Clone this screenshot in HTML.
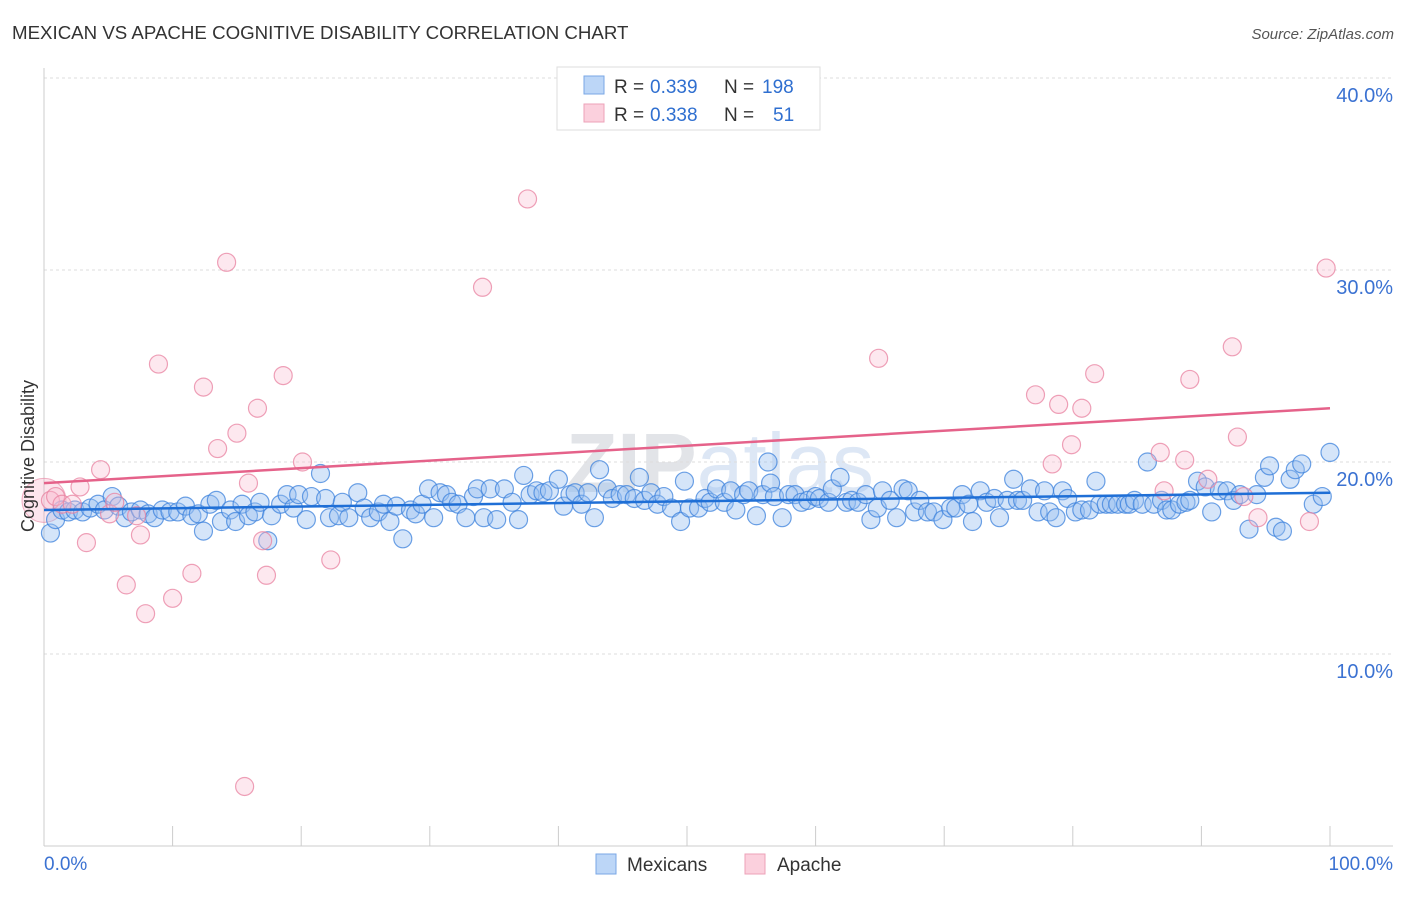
<!DOCTYPE html>
<html><head><meta charset="utf-8"><style>
body{margin:0;background:#fff;font-family:"Liberation Sans",sans-serif}
svg text{font-family:"Liberation Sans",sans-serif}
</style></head><body>
<svg id="chart" width="1406" height="892" viewBox="0 0 1406 892" xmlns="http://www.w3.org/2000/svg">
<text x="12" y="39" font-size="18.7" fill="#333">MEXICAN VS APACHE COGNITIVE DISABILITY CORRELATION CHART</text>
<text x="1394" y="39" font-size="15" font-style="italic" fill="#555" text-anchor="end">Source: ZipAtlas.com</text>
<text x="720" y="492" font-size="84" fill="#e6e9ef" text-anchor="middle" font-family="Liberation Serif"><tspan font-weight="bold" fill="#e2e4e8">ZIP</tspan><tspan fill="#dde7f5" font-family="Liberation Sans">atlas</tspan></text>
<g id="grid"></g>
<g id="axes"></g>
<g id="marks"></g>
<g id="trends"></g>
<text transform="translate(34,456) rotate(-90)" font-size="18" fill="#333" text-anchor="middle">Cognitive Disability</text>
<g>
<rect x="557" y="67" width="263" height="63" fill="#fff" stroke="#ddd"/>
<rect x="584" y="76" width="20" height="18" fill="#bcd6f7" stroke="#7aa7e6"/>
<rect x="584" y="104" width="20" height="18" fill="#fbd0dd" stroke="#eda2b8"/>
<text x="614" y="93" font-size="19" fill="#333">R =</text>
<text x="650" y="93" font-size="19" fill="#2f6fd0">0.339</text>
<text x="724" y="93" font-size="19" fill="#333">N =</text>
<text x="762" y="93" font-size="19" fill="#2f6fd0">198</text>
<text x="614" y="121" font-size="19" fill="#333">R =</text>
<text x="650" y="121" font-size="19" fill="#2f6fd0">0.338</text>
<text x="724" y="121" font-size="19" fill="#333">N =</text>
<text x="773" y="121" font-size="19" fill="#2f6fd0">51</text>
</g>
<g>
<rect x="596" y="854" width="20" height="20" fill="#bcd6f7" stroke="#7aa7e6"/>
<text x="627" y="871" font-size="19" fill="#333">Mexicans</text>
<rect x="745" y="854" width="20" height="20" fill="#fbd0dd" stroke="#eda2b8"/>
<text x="777" y="871" font-size="19" fill="#333">Apache</text>
</g>
</svg>
<script>
const yTicks=[10,20,30,40];
const yTickLabels=["10.0%","20.0%","30.0%","40.0%"];
const xTicks=[0,10,20,30,40,50,60,70,80,90,100];
const mexX=[0.5,0.9,1.4,1.9,2.4,3.0,3.6,4.2,4.7,5.3,5.8,6.3,6.8,7.5,8.1,8.6,9.2,9.8,10.4,11.0,11.5,12.0,12.4,12.9,13.4,13.8,14.5,14.9,15.4,15.9,16.4,16.8,17.4,17.7,18.4,18.9,19.4,19.8,20.4,20.8,21.5,21.9,22.2,22.9,23.2,23.7,24.4,24.9,25.4,26.0,26.4,26.9,27.4,27.9,28.5,28.9,29.4,29.9,30.3,30.8,31.3,31.7,32.2,32.8,33.4,33.7,34.2,34.7,35.2,35.8,36.4,36.9,37.3,37.8,38.3,38.8,39.3,40.0,40.4,40.9,41.3,41.8,42.3,42.8,43.2,43.8,44.2,44.8,45.3,45.9,46.3,46.7,47.2,47.7,48.2,48.8,49.5,49.8,50.2,50.9,51.4,51.8,52.3,52.9,53.4,53.8,54.4,54.8,55.4,55.9,56.3,56.5,56.8,57.4,57.9,58.4,58.9,59.4,60.0,60.3,61.0,61.3,61.9,62.4,62.8,63.3,63.9,64.3,64.8,65.2,65.8,66.3,66.8,67.2,67.7,68.1,68.7,69.2,69.9,70.5,70.9,71.4,71.9,72.2,72.8,73.3,73.9,74.3,74.9,75.4,75.7,76.1,76.7,77.3,77.8,78.2,78.7,79.2,79.6,80.2,80.7,81.3,81.8,82.1,82.6,83.0,83.5,84.1,84.4,84.8,85.4,85.8,86.3,86.9,87.3,87.7,88.3,88.8,89.1,89.7,90.3,90.8,91.4,92.0,92.5,93.0,93.7,94.3,94.9,95.3,95.8,96.3,96.9,97.3,97.8,98.7,99.4,100];
const mexY=[16.3,17.0,17.5,17.4,17.5,17.4,17.6,17.8,17.5,18.2,17.7,17.1,17.4,17.5,17.3,17.1,17.5,17.4,17.4,17.7,17.2,17.3,16.4,17.8,18.0,16.9,17.5,16.9,17.8,17.2,17.4,17.9,15.9,17.2,17.8,18.3,17.6,18.3,17.0,18.2,19.4,18.1,17.1,17.2,17.9,17.1,18.4,17.6,17.1,17.4,17.8,16.9,17.7,16.0,17.5,17.3,17.8,18.6,17.1,18.4,18.3,17.9,17.8,17.1,18.2,18.6,17.1,18.6,17.0,18.6,17.9,17.0,19.3,18.3,18.5,18.4,18.5,19.1,17.7,18.3,18.4,17.8,18.4,17.1,19.6,18.6,18.1,18.3,18.3,18.1,19.2,18.0,18.4,17.8,18.2,17.6,16.9,19.0,17.6,17.6,18.1,17.9,18.6,17.9,18.5,17.5,18.3,18.5,17.2,18.3,20.0,18.9,18.2,17.1,18.3,18.3,17.9,18.0,18.2,18.1,17.9,18.6,19.2,17.9,18.0,17.9,18.3,17.0,17.6,18.5,18.0,17.1,18.6,18.5,17.4,18.0,17.4,17.4,17.0,17.6,17.6,18.3,17.8,16.9,18.5,17.9,18.1,17.1,18.0,19.1,18.0,18.0,18.6,17.4,18.5,17.4,17.1,18.5,18.1,17.4,17.5,17.5,19.0,17.8,17.8,17.8,17.8,17.8,17.8,18.0,17.8,20.0,17.8,18.0,17.5,17.5,17.8,17.9,18.0,19.0,18.7,17.4,18.5,18.5,18.0,18.3,16.5,18.3,19.2,19.8,16.6,16.4,19.1,19.6,19.9,17.8,18.2,20.5];
const apaX=[0.5,0.9,1.4,2.2,2.8,3.3,4.4,5.1,5.5,6.4,7.2,7.5,7.9,8.9,10.0,11.5,12.4,13.5,14.2,15.0,15.6,15.9,16.6,17.0,17.3,18.6,20.1,22.3,34.1,37.6,64.9,77.1,78.4,78.9,79.9,80.7,81.7,86.8,87.1,88.7,89.1,90.5,92.4,92.8,93.3,94.4,98.4,99.7];
const apaY=[18.0,18.2,17.8,17.8,18.7,15.8,19.6,17.3,17.9,13.6,17.2,16.2,12.1,25.1,12.9,14.2,23.9,20.7,30.4,21.5,3.1,18.9,22.8,15.9,14.1,24.5,20.0,14.9,29.1,33.7,25.4,23.5,19.9,23.0,20.9,22.8,24.6,20.5,18.5,20.1,24.3,19.1,26.0,21.3,18.2,17.1,16.9,30.1];
const mexTrend=[17.5,18.4];
const apaTrend=[18.9,22.8];
const NS='http://www.w3.org/2000/svg';
const X=v=>44+v*12.86, Y=v=>846-v*19.2;
function mk(tag,attrs,parent){const e=document.createElementNS(NS,tag);for(const k in attrs)e.setAttribute(k,attrs[k]);parent.appendChild(e);return e;}
const grid=document.getElementById('grid'),axes=document.getElementById('axes'),marks=document.getElementById('marks'),trends=document.getElementById('trends');
yTicks.forEach((t,i)=>{
 const l=mk('line',{x1:44,x2:1393,y1:Y(t),y2:Y(t),stroke:'#ddd','stroke-dasharray':'3,3'},grid);
 
 
 const tx=mk('text',{x:1393,y:Y(t)+24,'font-size':20,fill:'#3b72d2','text-anchor':'end'},axes);
 tx.textContent=yTickLabels[i];
 
 
});
mk('line',{x1:44,x2:44,y1:68,y2:846,stroke:'#ccc'},axes);
mk('line',{x1:44,x2:1393,y1:846,y2:846,stroke:'#ccc'},axes);
xTicks.forEach(t=>{const l=mk('line',{x1:X(t),x2:X(t),y1:826,y2:846,stroke:'#ccc'},axes);
 
 });
const x0=mk('text',{x:44,y:870,'font-size':19,fill:'#3b72d2'},axes);x0.textContent='0.0%';


const x1=mk('text',{x:1393,y:870,'font-size':19,fill:'#3b72d2','text-anchor':'end'},axes);x1.textContent='100.0%';


const big=mk('circle',{cx:X(0),cy:Y(18.0),r:22,fill:'rgba(245,170,195,0.3)',stroke:'rgba(232,130,160,0.6)'},marks);


mexX.forEach((v,i)=>{const c=mk('circle',{cx:X(v),cy:Y(mexY[i]),r:9,fill:'rgba(150,190,240,0.4)',stroke:'rgba(60,130,220,0.75)','stroke-width':1.2},marks);
 
 });
apaX.forEach((v,i)=>{const c=mk('circle',{cx:X(v),cy:Y(apaY[i]),r:9,fill:'rgba(248,190,210,0.35)',stroke:'rgba(232,130,160,0.75)','stroke-width':1.2},marks);
 
 });
const t1=mk('line',{x1:X(0),x2:X(100),y1:Y(mexTrend[0]),y2:Y(mexTrend[1]),stroke:'#1f6fd6','stroke-width':2.5},trends);


const t2=mk('line',{x1:X(0),x2:X(100),y1:Y(apaTrend[0]),y2:Y(apaTrend[1]),stroke:'#e5628a','stroke-width':2.5},trends);


</script>
</body></html>
